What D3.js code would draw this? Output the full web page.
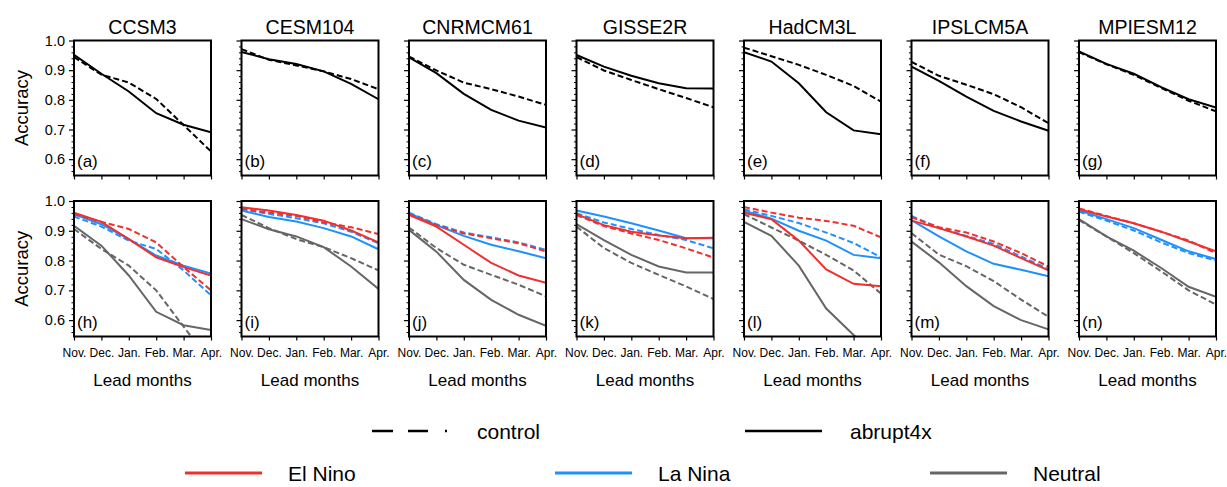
<!DOCTYPE html>
<html lang="en">
<head>
    <meta charset="UTF-8">
    <script type="text/javascript" src="https://cdn.jsdelivr.net/npm/d3@7/dist/d3.min.js"></script>
    <title>Accuracy</title>
    <style>
        body { margin: 0; background: #fff; }
        text { font-family: "Liberation Sans", Arial, sans-serif; }
    </style>
</head>
<body>
</body>
<script>
    // data
    let months = ["Nov.", "Dec.", "Jan.", "Feb.", "Mar.", "Apr."];
    let models = ["CCSM3", "CESM104", "CNRMCM61", "GISSE2R", "HadCM3L", "IPSLCM5A", "MPIESM12"];
    let topLabels = ["(a)", "(b)", "(c)", "(d)", "(e)", "(f)", "(g)"];
    let bottomLabels = ["(h)", "(i)", "(j)", "(k)", "(l)", "(m)", "(n)"];
    let yTicks = [0.6, 0.7, 0.8, 0.9, 1.0];

    // top row, all events
    let allControl = [
        [0.944, 0.885, 0.858, 0.803, 0.715, 0.626],
        [0.971, 0.935, 0.916, 0.896, 0.870, 0.836],
        [0.946, 0.899, 0.858, 0.836, 0.811, 0.783],
        [0.944, 0.899, 0.867, 0.836, 0.806, 0.775],
        [0.976, 0.947, 0.918, 0.884, 0.847, 0.794],
        [0.928, 0.881, 0.851, 0.819, 0.775, 0.721],
        [0.961, 0.920, 0.884, 0.840, 0.797, 0.761]
    ];
    let allAbrupt = [
        [0.952, 0.888, 0.828, 0.755, 0.716, 0.691],
        [0.961, 0.937, 0.921, 0.896, 0.854, 0.802],
        [0.943, 0.890, 0.820, 0.766, 0.730, 0.707],
        [0.951, 0.912, 0.881, 0.856, 0.839, 0.838],
        [0.961, 0.929, 0.856, 0.758, 0.697, 0.684],
        [0.912, 0.864, 0.811, 0.763, 0.727, 0.696],
        [0.963, 0.921, 0.888, 0.843, 0.802, 0.774]
    ];

    // bottom row, by event type
    let elNinoControl = [
        [0.956, 0.930, 0.906, 0.861, 0.778, 0.700],
        [0.975, 0.961, 0.950, 0.928, 0.912, 0.889],
        [0.956, 0.919, 0.891, 0.875, 0.858, 0.831],
        [0.953, 0.916, 0.891, 0.869, 0.841, 0.810],
        [0.980, 0.961, 0.944, 0.933, 0.917, 0.878],
        [0.945, 0.912, 0.894, 0.864, 0.825, 0.780],
        [0.975, 0.950, 0.925, 0.897, 0.867, 0.825]
    ];
    let elNinoAbrupt = [
        [0.961, 0.930, 0.872, 0.811, 0.778, 0.750],
        [0.979, 0.968, 0.953, 0.934, 0.901, 0.861],
        [0.953, 0.914, 0.853, 0.792, 0.750, 0.725],
        [0.956, 0.919, 0.897, 0.884, 0.875, 0.877],
        [0.961, 0.939, 0.867, 0.770, 0.722, 0.714],
        [0.934, 0.909, 0.881, 0.850, 0.808, 0.767],
        [0.972, 0.948, 0.925, 0.897, 0.864, 0.831]
    ];
    let laNinaControl = [
        [0.948, 0.914, 0.867, 0.839, 0.767, 0.683],
        [0.972, 0.957, 0.942, 0.925, 0.897, 0.858],
        [0.961, 0.922, 0.894, 0.878, 0.861, 0.836],
        [0.959, 0.928, 0.906, 0.886, 0.869, 0.841],
        [0.972, 0.950, 0.926, 0.894, 0.859, 0.811],
        [0.950, 0.909, 0.883, 0.856, 0.814, 0.771],
        [0.964, 0.934, 0.901, 0.861, 0.825, 0.800]
    ];
    let laNinaAbrupt = [
        [0.956, 0.922, 0.872, 0.817, 0.783, 0.756],
        [0.968, 0.946, 0.931, 0.909, 0.881, 0.838],
        [0.959, 0.919, 0.883, 0.853, 0.831, 0.808],
        [0.968, 0.948, 0.925, 0.901, 0.875, 0.875],
        [0.967, 0.941, 0.900, 0.867, 0.819, 0.808],
        [0.936, 0.881, 0.831, 0.789, 0.769, 0.747],
        [0.968, 0.939, 0.909, 0.870, 0.831, 0.805]
    ];
    let neutralControl = [
        [0.906, 0.839, 0.783, 0.700, 0.578, 0.460],
        [0.953, 0.909, 0.872, 0.845, 0.808, 0.767],
        [0.911, 0.842, 0.786, 0.752, 0.719, 0.680],
        [0.914, 0.842, 0.792, 0.752, 0.713, 0.671],
        [0.956, 0.911, 0.867, 0.819, 0.767, 0.689],
        [0.892, 0.820, 0.781, 0.731, 0.669, 0.611],
        [0.936, 0.881, 0.825, 0.764, 0.700, 0.652]
    ];
    let neutralAbrupt = [
        [0.917, 0.850, 0.750, 0.628, 0.583, 0.567],
        [0.939, 0.905, 0.881, 0.845, 0.780, 0.705],
        [0.903, 0.830, 0.735, 0.668, 0.618, 0.581],
        [0.922, 0.869, 0.819, 0.780, 0.760, 0.760],
        [0.930, 0.883, 0.783, 0.639, 0.550, 0.470],
        [0.864, 0.794, 0.714, 0.647, 0.600, 0.569],
        [0.939, 0.881, 0.833, 0.775, 0.712, 0.678]
    ];

    let width = 1227, height = 487;
    let panelW = 137, panelStep = 167.5, firstLeft = 74;
    let rows = [{top: 40.5, bottom: 175.5}, {top: 201, bottom: 336.5}];
    let red = "#f0302e", blue = "#1e90ff", gray = "#666666";
    let dash = "6,3";

    let svg = d3.select("body")
        .append("svg")
        .attr("width", width)
        .attr("height", height);

    let line = (x, y) => d3.line()
        .x((d, i) => x(months[i]))
        .y(d => y(d));

    function drawPanel(row, col, series, label) {
        let left = firstLeft + col * panelStep;
        let r = rows[row];
        let x = d3.scalePoint().domain(months).range([left, left + panelW]);
        let y = d3.scaleLinear().domain([0.545, 1.0]).range([r.bottom, r.top]);
        let id = "clip" + row + "_" + col;

        svg.append("clipPath").attr("id", id)
            .append("rect")
            .attr("x", left).attr("y", r.top)
            .attr("width", panelW).attr("height", r.bottom - r.top);

        // minor ticks on y
        let minor = d3.range(0.56, 1.0, 0.02).filter(v => Math.abs(v * 10 - Math.round(v * 10)) > 0.01);
        let yMinor = d3.axisLeft(y).tickValues(minor).tickSize(2.5).tickFormat("");
        svg.append("g").attr("transform", "translate(" + left + ",0)").call(yMinor)
            .call(g => g.select(".domain").remove())
            .selectAll("line").attr("stroke-width", 1);

        let yAxis = d3.axisLeft(y).tickValues(yTicks).tickSize(5)
            .tickFormat(col === 0 ? d3.format(".1f") : "");
        let ga = svg.append("g").attr("transform", "translate(" + left + ",0)").call(yAxis);
        ga.select(".domain").remove();
        ga.selectAll("line").attr("stroke-width", 1.2);
        ga.selectAll("text").attr("font-size", 14.5).attr("fill", "#000").attr("dx", -1);

        let xAxis = d3.axisBottom(x).tickSize(4).tickFormat(row === 1 ? null : "");
        let gx = svg.append("g").attr("transform", "translate(0," + r.bottom + ")").call(xAxis);
        gx.select(".domain").remove();
        gx.selectAll("line").attr("stroke-width", 1.2);
        gx.selectAll("text").attr("font-size", 12).attr("fill", "#000").attr("dy", "1.1em");

        let g = svg.append("g").attr("clip-path", "url(#" + id + ")");
        series.forEach(s => {
            g.append("path")
                .datum(s.values)
                .attr("fill", "none")
                .attr("stroke", s.color)
                .attr("stroke-width", 2)
                .attr("stroke-dasharray", s.dashed ? dash : null)
                .attr("d", line(x, y));
        });

        // frame
        svg.append("rect")
            .attr("x", left).attr("y", r.top)
            .attr("width", panelW).attr("height", r.bottom - r.top)
            .attr("fill", "none").attr("stroke", "#000").attr("stroke-width", 2);

        svg.append("text")
            .attr("x", left + 3).attr("y", r.bottom - 9)
            .attr("font-size", 17)
            .text(label);

        if (row === 0) {
            svg.append("text")
                .attr("x", left + panelW / 2).attr("y", 33.5)
                .attr("text-anchor", "middle")
                .attr("font-size", 19.5)
                .text(models[col]);
        } else {
            svg.append("text")
                .attr("x", left + panelW / 2).attr("y", 386)
                .attr("text-anchor", "middle")
                .attr("font-size", 17)
                .text("Lead months");
        }
        if (col === 0) {
            svg.append("text")
                .attr("transform", "translate(28," + ((r.top + r.bottom) / 2) + ") rotate(-90)")
                .attr("text-anchor", "middle")
                .attr("font-size", 18.5)
                .text("Accuracy");
        }
    }

    models.forEach((m, i) => {
        drawPanel(0, i, [
            {values: allControl[i], color: "#000", dashed: true},
            {values: allAbrupt[i], color: "#000", dashed: false}
        ], topLabels[i]);
        drawPanel(1, i, [
            {values: neutralControl[i], color: gray, dashed: true},
            {values: neutralAbrupt[i], color: gray, dashed: false},
            {values: laNinaControl[i], color: blue, dashed: true},
            {values: laNinaAbrupt[i], color: blue, dashed: false},
            {values: elNinoControl[i], color: red, dashed: true},
            {values: elNinoAbrupt[i], color: red, dashed: false}
        ], bottomLabels[i]);
    });

    // legend
    let legend1 = [
        {name: "control", color: "#000", dashed: true, x: 372},
        {name: "abrupt4x", color: "#000", dashed: false, x: 745}
    ];
    let legend2 = [
        {name: "El Nino", color: red, x: 185},
        {name: "La Nina", color: blue, x: 555},
        {name: "Neutral", color: gray, x: 930}
    ];

    legend1.forEach(d => {
        svg.append("line")
            .attr("x1", d.x).attr("x2", d.x + 77)
            .attr("y1", 431).attr("y2", 431)
            .attr("stroke", d.color).attr("stroke-width", 2.5)
            .attr("stroke-dasharray", d.dashed ? "21,15,20,17,2,40" : null);
        svg.append("text")
            .attr("x", d.x + 105).attr("y", 438.5)
            .attr("font-size", 21)
            .text(d.name);
    });
    legend2.forEach(d => {
        svg.append("line")
            .attr("x1", d.x).attr("x2", d.x + 77)
            .attr("y1", 473).attr("y2", 473)
            .attr("stroke", d.color).attr("stroke-width", 3);
        svg.append("text")
            .attr("x", d.x + 103).attr("y", 480.5)
            .attr("font-size", 21)
            .text(d.name);
    });
</script>
</html>
